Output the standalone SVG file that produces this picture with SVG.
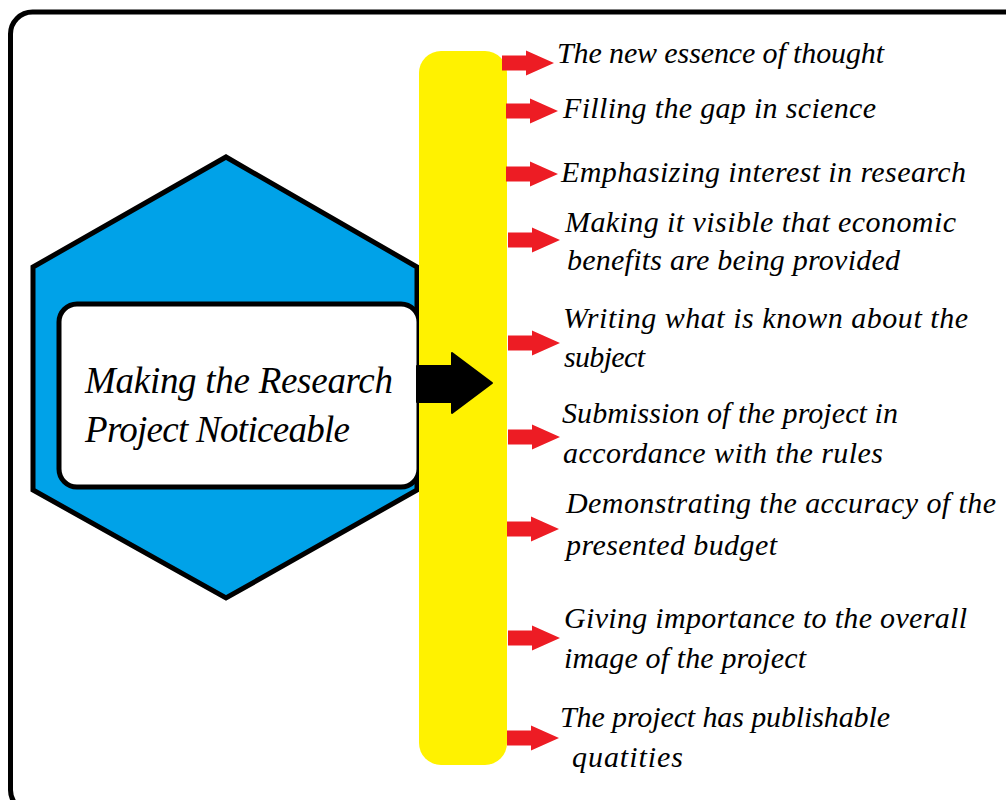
<svg xmlns="http://www.w3.org/2000/svg" xmlns:xlink="http://www.w3.org/1999/xlink" width="1006" height="800" viewBox="0 0 1006 800">
  <style>
    .lbl { font-family: "Liberation Serif", "DejaVu Serif", serif; font-style: italic; font-size: 30px; fill: #000; }
    .title { font-family: "Liberation Serif", "DejaVu Serif", serif; font-style: italic; font-size: 37px; fill: #000; }
    .red { fill: #ED1C24; }
  </style>
  <defs>
    <path id="redArrow" d="M0,-7.5 H24 V-12.5 L52,0 L24,12.5 V7.5 H0 Z"/>
  </defs>
  <rect width="1006" height="800" fill="#fff"/>
  <rect id="frame" x="10.5" y="12" width="1030" height="800" rx="22" fill="none" stroke="#000" stroke-width="5"/>

  <g id="hexagon">
    <polygon points="226,157 417,267 417,490 226,598 33,490 33,267" fill="#00A2E8" stroke="#000" stroke-width="5" stroke-linejoin="miter"/>
  </g>
  <g id="main-node">
    <rect x="59" y="304" width="360" height="183" rx="18" fill="#fff" stroke="#000" stroke-width="5"/>
    <text class="title" x="85" y="393" textLength="308">Making the Research</text>
    <text class="title" x="85" y="442" textLength="265">Project Noticeable</text>
  </g>
  <g id="bar">
    <rect x="419" y="51" width="88" height="714" rx="22" fill="#FFF200"/>
  </g>

  <g id="connectors">
    <polygon points="417,366 452,366 452,353 492,383 452,413 452,402 417,402" fill="#000" stroke="#000" stroke-width="2" stroke-linejoin="round"/>
    <use xlink:href="#redArrow" class="red" x="502" y="63"/>
    <use xlink:href="#redArrow" class="red" x="506" y="111"/>
    <use xlink:href="#redArrow" class="red" x="506" y="174"/>
    <use xlink:href="#redArrow" class="red" x="508" y="240"/>
    <use xlink:href="#redArrow" class="red" x="508" y="343"/>
    <use xlink:href="#redArrow" class="red" x="508" y="437"/>
    <use xlink:href="#redArrow" class="red" x="507" y="529"/>
    <use xlink:href="#redArrow" class="red" x="508" y="638"/>
    <use xlink:href="#redArrow" class="red" x="507" y="738"/>
  </g>

  <g id="item1"><text class="lbl" x="557" y="63" textLength="327">The new essence of thought</text></g>
  <g id="item2"><text class="lbl" x="563" y="118" textLength="313">Filling the gap in science</text></g>
  <g id="item3"><text class="lbl" x="561" y="182" textLength="405">Emphasizing interest in research</text></g>
  <g id="item4">
    <text class="lbl" x="565" y="232" textLength="391">Making it visible that economic</text>
    <text class="lbl" x="567" y="270" textLength="333">benefits are being provided</text>
  </g>
  <g id="item5">
    <text class="lbl" x="563" y="328" textLength="405">Writing what is known about the</text>
    <text class="lbl" x="564" y="367" textLength="81">subject</text>
  </g>
  <g id="item6">
    <text class="lbl" x="562" y="423" textLength="336">Submission of the project in</text>
    <text class="lbl" x="563" y="463" textLength="320">accordance with the rules</text>
  </g>
  <g id="item7">
    <text class="lbl" x="566" y="513" textLength="430">Demonstrating the accuracy of the</text>
    <text class="lbl" x="566" y="555" textLength="211">presented budget</text>
  </g>
  <g id="item8">
    <text class="lbl" x="564" y="628" textLength="403">Giving importance to the overall</text>
    <text class="lbl" x="564" y="668" textLength="242">image of the project</text>
  </g>
  <g id="item9">
    <text class="lbl" x="560" y="727" textLength="330">The project has publishable</text>
    <text class="lbl" x="572" y="767" textLength="111">quatities</text>
  </g>
</svg>
